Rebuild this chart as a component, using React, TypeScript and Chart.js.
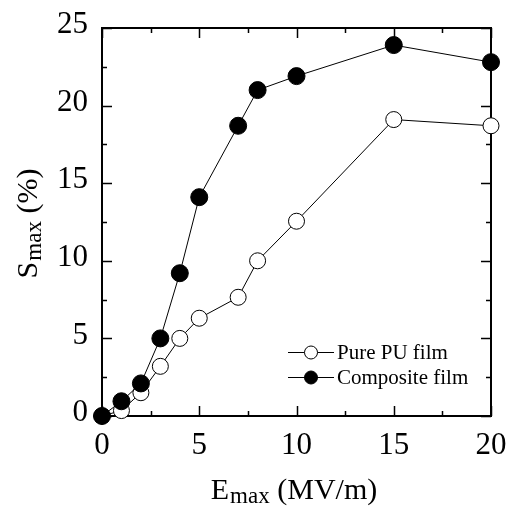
import { useEffect, useRef } from "react";
import { Chart, registerables } from "chart.js";

Chart.register(...registerables);

const eMax = [0, 1, 2, 3, 4, 5, 7, 8, 10, 15, 20];
const purePU = [0, 0.35, 1.5, 3.2, 5.0, 6.3, 7.65, 10.0, 12.55, 19.1, 18.7];
const composite = [0, 0.95, 2.1, 5.0, 9.2, 14.1, 18.7, 21.0, 21.9, 23.9, 22.8];
const seriesLabels = ["Pure PU film", "Composite film"];
const xRange = [0, 20];
const yRange = [0, 25];
const majorStep = 5;
const minorStep = 2.5;

const FONT = "'Liberation Serif', 'Times New Roman', serif";

const framePlugin = {
  id: "frame",
  beforeDatasetsDraw(chart: any) {
    const { ctx, chartArea, scales } = chart;
    const { left, right, top, bottom } = chartArea;
    const x = scales.x;
    const y = scales.y;
    ctx.save();
    ctx.strokeStyle = "#000";
    ctx.lineWidth = 2;
    ctx.strokeRect(left, top, right - left, bottom - top);
    ctx.lineWidth = 1.5;
    ctx.beginPath();
    for (let v = xRange[0]; v <= xRange[1] + 1e-9; v += minorStep) {
      const major = Math.abs(v / majorStep - Math.round(v / majorStep)) < 1e-6;
      const len = major ? 10 : 5;
      const px = Math.round(x.getPixelForValue(v)) + 0.5;
      ctx.moveTo(px, bottom);
      ctx.lineTo(px, bottom - len);
      ctx.moveTo(px, top);
      ctx.lineTo(px, top + len);
    }
    for (let v = yRange[0]; v <= yRange[1] + 1e-9; v += minorStep) {
      const major = Math.abs(v / majorStep - Math.round(v / majorStep)) < 1e-6;
      const len = major ? 10 : 5;
      const py = Math.round(y.getPixelForValue(v)) + 0.5;
      ctx.moveTo(left, py);
      ctx.lineTo(left + len, py);
      ctx.moveTo(right, py);
      ctx.lineTo(right - len, py);
    }
    ctx.stroke();
    ctx.restore();
  },
};

function drawSubTitle(ctx: CanvasRenderingContext2D, main: string, sub: string, rest: string, cx: number, cy: number) {
  const big = `30px ${FONT}`;
  const small = `23px ${FONT}`;
  ctx.font = big;
  const w1 = ctx.measureText(main).width;
  const w3 = ctx.measureText(rest).width;
  ctx.font = small;
  const w2 = ctx.measureText(sub).width;
  const total = w1 + w2 + w3;
  let x0 = cx - total / 2;
  ctx.textBaseline = "alphabetic";
  ctx.textAlign = "left";
  ctx.fillStyle = "#000";
  ctx.font = big;
  ctx.fillText(main, x0, cy);
  x0 += w1 + 1;
  ctx.font = small;
  ctx.fillText(sub, x0, cy + 4);
  x0 += w2;
  ctx.font = big;
  ctx.fillText(rest, x0, cy);
}

const titlesPlugin = {
  id: "titles",
  afterDraw(chart: any) {
    const { ctx, chartArea } = chart;
    const { left, right, top, bottom } = chartArea;
    ctx.save();
    drawSubTitle(ctx, "E", "max", " (MV/m)", (left + right) / 2 - 3, bottom + 83);
    ctx.translate(left - 65, (top + bottom) / 2 + 2);
    ctx.rotate(-Math.PI / 2);
    drawSubTitle(ctx, "S", "max", " (%)", 0, 0);
    ctx.restore();
  },
};

const legendPlugin = {
  id: "insideLegend",
  afterDatasetsDraw(chart: any) {
    const { ctx, chartArea } = chart;
    const { right, bottom } = chartArea;
    ctx.save();
    const x0 = right - 203;
    const rows = [bottom - 64, bottom - 39];
    const fills = ["#ffffff", "#000000"];
    for (let i = 0; i < seriesLabels.length; i++) {
      const yy = rows[i];
      ctx.strokeStyle = "#000";
      ctx.lineWidth = 1;
      ctx.beginPath();
      ctx.moveTo(x0, yy + 0.5);
      ctx.lineTo(x0 + 46, yy + 0.5);
      ctx.stroke();
      ctx.beginPath();
      ctx.arc(x0 + 23, yy + 0.5, 6.5, 0, Math.PI * 2);
      ctx.fillStyle = fills[i];
      ctx.fill();
      ctx.stroke();
      ctx.fillStyle = "#000";
      ctx.font = `21px ${FONT}`;
      ctx.textBaseline = "middle";
      ctx.textAlign = "left";
      ctx.fillText(seriesLabels[i], x0 + 49, yy + 1);
    }
    ctx.restore();
  },
};

export default function App() {
  const ref = useRef<HTMLCanvasElement | null>(null);
  useEffect(() => {
    if (!ref.current) return;
    const chart = new Chart(ref.current, {
      type: "line",
      data: {
        datasets: [
          {
            label: seriesLabels[0],
            data: eMax.map((v, i) => ({ x: v, y: purePU[i] })),
            borderColor: "#000",
            borderWidth: 1,
            pointRadius: 8,
            pointBorderWidth: 1,
            pointBackgroundColor: "#fff",
            pointBorderColor: "#000",
            showLine: true,
            clip: false as any,
            order: 2,
          },
          {
            label: seriesLabels[1],
            data: eMax.map((v, i) => ({ x: v, y: composite[i] })),
            borderColor: "#000",
            borderWidth: 1,
            pointRadius: 8.5,
            pointBorderWidth: 1,
            pointBackgroundColor: "#000",
            pointBorderColor: "#000",
            showLine: true,
            clip: false as any,
            order: 1,
          },
        ],
      },
      options: {
        responsive: false,
        animation: false,
        devicePixelRatio: 1,
        layout: { padding: { top: 28, right: 19, left: 0, bottom: 0 } },
        plugins: { legend: { display: false }, tooltip: { enabled: false } },
        scales: {
          x: {
            type: "linear",
            min: xRange[0],
            max: xRange[1],
            grid: { display: false, drawTicks: false },
            border: { display: false },
            ticks: {
              stepSize: majorStep,
              color: "#000",
              font: { family: FONT, size: 31 },
              padding: 11,
              maxRotation: 0,
            },
            afterFit(scale: any) {
              scale.height = 90;
              scale.paddingLeft = 0;
              scale.paddingRight = 0;
            },
          },
          y: {
            type: "linear",
            min: yRange[0],
            max: yRange[1],
            grid: { display: false, drawTicks: false },
            border: { display: false },
            ticks: {
              stepSize: majorStep,
              color: "#000",
              font: { family: FONT, size: 31 },
              padding: 14,
              labelOffset: -3,
            },
            afterFit(scale: any) {
              scale.width = 102;
              scale.paddingTop = 0;
              scale.paddingBottom = 0;
            },
          },
        },
      },
      plugins: [framePlugin, legendPlugin, titlesPlugin],
    });
    return () => chart.destroy();
  }, []);
  return (
    <div style={{ position: "absolute", left: 0, top: 0, width: 510, height: 506, background: "#fff" }}>
      <canvas ref={ref} width={510} height={506} />
    </div>
  );
}
